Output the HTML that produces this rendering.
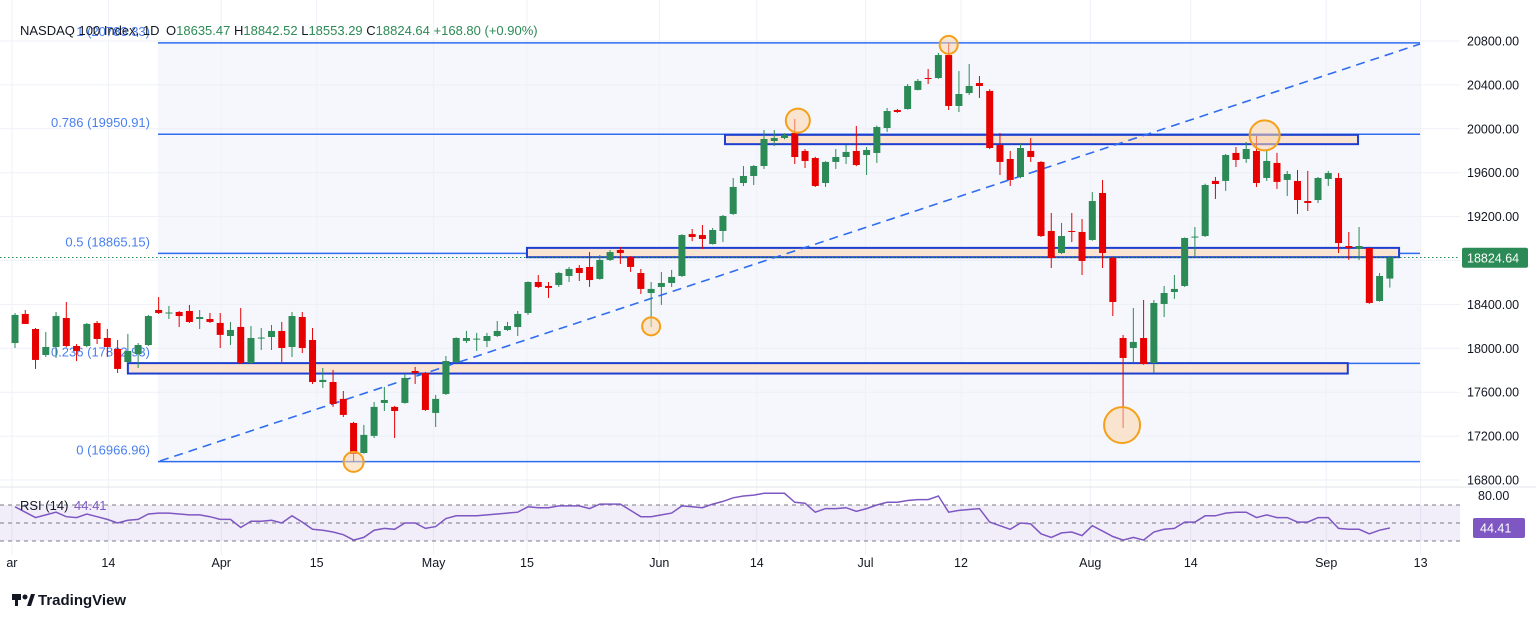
<!DOCTYPE html>
<html><head><meta charset="utf-8"><style>
html,body{margin:0;padding:0;background:#fff;width:1536px;height:619px;overflow:hidden;font-family:"Liberation Sans",sans-serif;}
svg text{font-family:"Liberation Sans",sans-serif;}
</style></head><body>
<svg id="chart" width="1536" height="619" xmlns="http://www.w3.org/2000/svg">
<g id="grid"></g>
<rect x="158" y="43" width="1262" height="419" fill="#f5f7fd"/>
<g id="grid2"></g>
<g id="fib"></g>
<g id="zones"></g>
<line x1="160" y1="461" x2="1420" y2="44" stroke="#2f6df0" stroke-width="1.6" stroke-dasharray="9 6"/>
<line x1="0" y1="257.5" x2="1460" y2="257.5" stroke="#2b8a55" stroke-width="1" stroke-dasharray="1.5 2.5"/>
<g id="candles"></g>
<g id="circles"></g>
<g id="rsi"></g>
<g id="axis"></g>
<g id="xaxis"></g>
<g font-size="13">
<text x="20" y="35" fill="#131722">NASDAQ 100 Index, 1D</text>
<text x="166" y="35" fill="#131722">O<tspan fill="#2b8a55">18635.47</tspan>  H<tspan fill="#2b8a55">18842.52</tspan>  L<tspan fill="#2b8a55">18553.29</tspan>  C<tspan fill="#2b8a55">18824.64</tspan>  <tspan fill="#2b8a55">+168.80 (+0.90%)</tspan></text>
</g>
<g>
<rect x="12" y="594" width="9" height="6" fill="#131722"/><rect x="15" y="594" width="3" height="12" fill="#131722"/>
<circle cx="25" cy="597" r="2.5" fill="#131722"/><path d="M27 606 L31 594 L35 594 L31 606 Z" fill="#131722"/>
<text x="38" y="605" font-size="15" font-weight="bold" fill="#131722">TradingView</text>
</g>
</svg>
<script>
const opens=[18048,18313,18176,17939,18012,18276,18021,18021,18231,18094,17994,17875,17948,18030,18349,18318,18331,18340,18267,18267,18231,18112,18194,17866,18090,18103,18158,18012,18285,18076,17693,17693,17539,17320,17046,17202,17502,17466,17502,17793,17775,17411,17584,17875,18067,18082,18067,18112,18167,18194,18322,18604,18568,18577,18659,18732,18741,18632,18805,18896,18832,18686,18504,18559,18595,18659,19041,19032,18950,19069,19224,19506,19570,19661,19889,19916,19962,19798,19734,19506,19698,19743,19798,19761,19780,20007,20171,20180,20354,20463,20463,20672,20208,20326,20417,20345,19852,19725,19561,19798,19698,19069,18868,19069,19060,18987,19415,18823,18094,18003,18094,17866,18404,18513,18568,19010,19023,19525,19525,19780,19725,19798,19552,19689,19534,19525,19342,19351,19543,19552,18932,18905,18914,18431,18635.47];
const highs=[18322,18349,18185,18149,18331,18422,18039,18231,18249,18176,18076,18131,18048,18304,18467,18386,18340,18395,18349,18322,18322,18240,18367,18203,18185,18212,18240,18331,18331,18185,17821,17803,17611,17330,17302,17511,17648,17475,17766,17830,17784,17575,17930,18100,18158,18140,18140,18249,18240,18340,18610,18668,18604,18696,18741,18759,18877,18850,18896,18923,18840,18723,18604,18696,18714,19040,19087,19124,19096,19215,19552,19661,19670,19989,19989,19960,20089,19816,19745,19705,19816,19852,20026,19834,20030,20190,20180,20408,20454,20545,20691,20782,20527,20590,20481,20360,19962,19798,19870,19916,19705,19233,19142,19233,19178,19424,19534,18830,18122,18367,18440,18440,18568,18668,19010,19105,19500,19561,19770,19834,19880,19934,19816,19780,19616,19625,19616,19561,19616,19597,19060,19105,18925,18686,18842.52];
const lows=[18003,18222,17812,17921,17912,18010,17884,18010,18039,17921,17775,17866,17821,18021,18313,18267,18194,18231,18176,18231,18003,18030,17857,17857,17985,17985,17875,17921,17957,17675,17639,17466,17374,16964,17040,17183,17429,17183,17495,17675,17430,17283,17575,17866,18048,17976,18012,18103,18158,18112,18304,18550,18459,18559,18604,18613,18559,18625,18795,18768,18696,18495,18194,18395,18559,18650,18977,18905,18945,18968,19215,19479,19488,19634,19843,19905,19679,19643,19470,19470,19634,19679,19660,19579,19689,19971,20145,20175,20350,20408,20455,20171,20153,20308,20281,19815,19579,19479,19550,19698,19014,18732,18860,18968,18668,18980,18732,18294,17274,17875,17850,17775,18285,18450,18559,18841,19015,19361,19434,19652,19689,19470,19525,19452,19388,19224,19251,19324,19479,18868,18805,18805,18405,18425,18553.29];
const closes=[18304,18222,17894,18012,18294,18021,17976,18222,18085,18012,17812,17976,18030,18294,18322,18326,18294,18240,18285,18240,18122,18167,17866,18094,18098,18158,18003,18294,18003,17693,17712,17493,17393,17037,17211,17466,17529,17429,17730,17775,17438,17539,17884,18094,18094,18088,18112,18158,18203,18313,18604,18559,18550,18686,18723,18686,18622,18805,18877,18868,18741,18541,18541,18595,18650,19032,19014,18996,19078,19206,19470,19570,19661,19907,19916,19943,19743,19707,19479,19698,19743,19789,19670,19807,20016,20162,20153,20390,20436,20454,20672,20208,20317,20390,20390,19825,19698,19534,19825,19743,19023,18823,19023,19060,18796,19342,18868,18422,17912,18058,17857,18413,18504,18541,19005,19018,19488,19497,19761,19716,19816,19506,19707,19516,19588,19351,19324,19552,19597,18959,18914,18932,18413,18659,18824.64];
const rsiValues=[68,62,56,59,62,57,56,60,57,54,50,53,54,60,61,61,60,59,59,57,54,54,45,52,52,53,50,58,51,43,42,40,37,31,34,42,44,43,50,50,44,46,55,58,58,58,59,60,61,62,68,67,67,69,69,69,66,71,71,71,64,57,57,59,61,69,68,67,71,74,78,80,81,83,83,83,73,72,62,66,66,67,63,66,70,73,73,75,76,76,80,62,64,65,66,51,47,43,50,49,38,34,39,40,36,47,41,35,31,34,31,40,43,44,51,51,58,58,61,62,62,56,59,56,56,51,51,56,56,44,43,43,38,42,44.41];
const priceTicks=[16800,17200,17600,18000,18400,18800,19200,19600,20000,20400,20800];
const timeLabels=["ar","14","Apr","15","May","15","Jun","14","Jul","12","Aug","14","Sep","13"];
const timeLabelIdx=[-0.3,9.1,20.1,29.4,40.8,49.9,62.8,72.3,82.9,92.2,104.8,114.6,127.8,137];
const fibLevels=[1,0.786,0.5,0.236,0];
const fibPrices=[20783.33,19950.91,18865.15,17862.93,16966.96];
const zoneTop=[19945,18915,17865];
const zoneBottom=[19860,18830,17770];
const zoneStart=[69.2,49.9,11];
const zoneEnd=[130.9,134.9,129.9];
const circleIdx=[91,76.3,121.8,62,33,107.9];
const circlePrice=[20765,20075,19940,18200,16965,17300];
const circleR=[9,12,15,9,10,18];

const NS="http://www.w3.org/2000/svg";
function y(p){return 41+(20800-p)*0.10975;}
function x(i){return 15+i*10.26;}
function ry(r){return 523-(r-50)*0.9;}
function mk(tag,attrs,parent){const e=document.createElementNS(NS,tag);for(const k in attrs)e.setAttribute(k,attrs[k]);parent.appendChild(e);return e;}
const grid=document.getElementById('grid');
priceTicks.forEach(p=>{const l=mk('line',{x1:0,x2:1460,y1:y(p),y2:y(p),stroke:'#eef1f7','stroke-width':1},grid);

});
const grid2=document.getElementById('grid2');
timeLabelIdx.forEach(i=>{const l=mk('line',{x1:x(i),x2:x(i),y1:0,y2:555,stroke:'#eef1f7','stroke-width':1},grid2);

});
priceTicks.forEach(p=>{const l=mk('line',{x1:158,x2:1420,y1:y(p),y2:y(p),stroke:'#eceff7','stroke-width':1},grid2);

});
const fib=document.getElementById('fib');
fibLevels.forEach((lv,k)=>{const yy=y(fibPrices[k]);
const l=mk('line',{x1:158,x2:1420,y1:yy,y2:yy,stroke:'#2f6df0','stroke-width':1.5},fib);


const t=mk('text',{x:150,y:yy-7,'text-anchor':'end','font-size':13,fill:'#4a7ff0'},fib);
t.textContent=lv+' ('+fibPrices[k].toFixed(2)+')';

});
const zones=document.getElementById('zones');
zoneTop.forEach((tp,k)=>{const r=mk('rect',{x:x(zoneStart[k]),y:y(tp),width:x(zoneEnd[k])-x(zoneStart[k]),height:y(zoneBottom[k])-y(tp),fill:'#fbe4d2',stroke:'#1d3fcf','stroke-width':2},zones);

});
const cg=document.getElementById('candles');
opens.forEach((o,i)=>{const c=closes[i];const up=c>=o;const col=up?'#2b8a55':'#e60000';const cx=x(i);
const w=mk('line',{x1:cx,x2:cx,y1:y(highs[i]),y2:y(lows[i]),stroke:col,'stroke-width':1},cg);


const top=y(Math.max(o,c)),bot=y(Math.min(o,c));
const b=mk('rect',{x:cx-3.5,y:top,width:7,height:Math.max(1,bot-top),fill:col},cg);

});
const cc=document.getElementById('circles');
circleIdx.forEach((i,k)=>{const c=mk('circle',{cx:x(i),cy:y(circlePrice[k]),r:circleR[k],fill:'rgba(252,214,170,0.55)',stroke:'#f5a01a','stroke-width':2},cc);

});
const rs=document.getElementById('rsi');
let l0=mk('line',{x1:0,x2:1536,y1:487,y2:487,stroke:'#e0e3eb','stroke-width':1},rs);


let band=mk('rect',{x:0,y:ry(70),width:1460,height:ry(30)-ry(70),fill:'rgba(126,87,194,0.1)'},rs);


[70,50,30].forEach(v=>{const d=mk('line',{x1:0,x2:1460,y1:ry(v),y2:ry(v),stroke:'#787b86','stroke-width':1,'stroke-dasharray':'4 4'},rs);

});
const pl=mk('polyline',{points:rsiValues.map((r,i)=>x(i)+','+ry(r)).join(' '),fill:'none',stroke:'#7e57c2','stroke-width':1.5},rs);


let rt=mk('text',{x:20,y:510,'font-size':13,fill:'#131722'},rs);rt.textContent='RSI (14)';


let rv=mk('text',{x:74,y:510,'font-size':13,fill:'#7e57c2'},rs);rv.textContent=rsiValues[rsiValues.length-1].toFixed(2);


const ax=document.getElementById('axis');
priceTicks.forEach(p=>{if(p===18800)return;const t=mk('text',{x:1467,y:y(p)+4.5,'font-size':12.5,fill:'#131722'},ax);t.textContent=p.toFixed(2);

});
const last=closes[closes.length-1];
let lr=mk('rect',{x:1462,y:y(last)-10,width:66,height:20,fill:'#2b8a55',rx:2},ax);


let lt=mk('text',{x:1467,y:y(last)+4.5,'font-size':12.5,fill:'#fff'},ax);lt.textContent=last.toFixed(2);


let r80=mk('text',{x:1478,y:ry(80)+4,'font-size':12.5,fill:'#131722'},ax);r80.textContent='80.00';


const lastR=rsiValues[rsiValues.length-1];
let rr=mk('rect',{x:1473,y:ry(lastR)-10,width:52,height:20,fill:'#7e57c2',rx:2},ax);


let rtt=mk('text',{x:1480,y:ry(lastR)+4.5,'font-size':12.5,fill:'#fff'},ax);rtt.textContent=lastR.toFixed(2);


const xa=document.getElementById('xaxis');
timeLabels.forEach((s,k)=>{const t=mk('text',{x:x(timeLabelIdx[k]),y:567,'font-size':12.5,fill:'#131722','text-anchor':'middle'},xa);t.textContent=s;

});
</script>
</body></html>
